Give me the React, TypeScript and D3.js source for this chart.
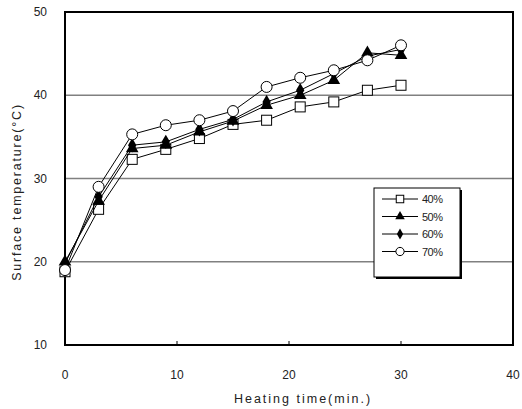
import React, { useEffect, useRef } from 'react';
import * as d3 from 'd3';

const times = [0, 3, 6, 9, 12, 15, 18, 21, 24, 27, 30];
const s40 = [18.8, 26.3, 32.3, 33.5, 34.8, 36.5, 37.0, 38.6, 39.2, 40.6, 41.2];
const s50 = [20.0, 27.3, 33.6, 34.0, 35.6, 36.9, 38.8, 40.0, 41.8, 45.1, 44.8];
const s60 = [19.8, 27.8, 34.0, 34.4, 35.9, 37.1, 39.2, 40.6, 42.6, 44.7, 45.5];
const s70 = [19.0, 29.0, 35.3, 36.4, 37.0, 38.1, 41.0, 42.1, 43.0, 44.2, 46.0];
const seriesNames = ['40%', '50%', '60%', '70%'];
const seriesMarkers = ['square', 'triangle', 'diamond', 'circle'];
const xTicks = [0, 10, 20, 30, 40];
const yTicks = [10, 20, 30, 40, 50];

const App = () => {
  const ref = useRef<SVGSVGElement | null>(null);

  useEffect(() => {
    if (!ref.current) return;
    const svg = d3.select(ref.current);
    svg.selectAll('*').remove();

    const x = d3.scaleLinear().domain([0, 40]).range([65, 513]);
    const y = d3.scaleLinear().domain([10, 50]).range([345, 12]);
    const font = '"Liberation Sans", Arial, sans-serif';

    // gridlines
    svg.append('g')
      .selectAll('line')
      .data([20, 30, 40])
      .join('line')
      .attr('x1', x(0)).attr('x2', x(40))
      .attr('y1', d => y(d)).attr('y2', d => y(d))
      .attr('stroke', '#808080').attr('stroke-width', 1.5);

    // plot frame
    svg.append('rect')
      .attr('x', x(0)).attr('y', y(50))
      .attr('width', x(40) - x(0)).attr('height', y(10) - y(50))
      .attr('fill', 'none').attr('stroke', '#000').attr('stroke-width', 2);

    // x ticks (inward)
    svg.append('g')
      .selectAll('line')
      .data([10, 20, 30])
      .join('line')
      .attr('x1', d => x(d)).attr('x2', d => x(d))
      .attr('y1', y(10)).attr('y2', y(10) - 4)
      .attr('stroke', '#000').attr('stroke-width', 1);

    // tick labels
    svg.append('g')
      .selectAll('text')
      .data(xTicks)
      .join('text')
      .attr('x', d => x(d)).attr('y', 379)
      .attr('text-anchor', 'middle')
      .attr('font-family', font).attr('font-size', 12).attr('fill', '#222')
      .text(d => d);

    svg.append('g')
      .selectAll('text')
      .data(yTicks)
      .join('text')
      .attr('x', 47).attr('y', d => y(d) + 4)
      .attr('text-anchor', 'end')
      .attr('font-family', font).attr('font-size', 12).attr('fill', '#222')
      .text(d => d);

    // axis titles
    svg.append('text')
      .attr('x', 303).attr('y', 403)
      .attr('text-anchor', 'middle')
      .attr('font-family', font).attr('font-size', 12.5).attr('letter-spacing', 2)
      .attr('fill', '#222')
      .text('Heating  time(min.)');

    svg.append('text')
      .attr('transform', `translate(21, 192) rotate(-90)`)
      .attr('text-anchor', 'middle')
      .attr('font-family', font).attr('font-size', 12.5).attr('letter-spacing', 1.8)
      .attr('fill', '#222')
      .text('Surface  temperature(\u00b0C)');

    const allSeries = [s40, s50, s60, s70];

    const drawMarker = (g: any, kind: string, cx: number, cy: number, scale = 1) => {
      if (kind === 'square') {
        const h = 5 * scale;
        g.append('rect').attr('x', cx - h).attr('y', cy - h)
          .attr('width', 2 * h).attr('height', 2 * h)
          .attr('fill', '#fff').attr('stroke', '#000').attr('stroke-width', 1);
      } else if (kind === 'circle') {
        g.append('circle').attr('cx', cx).attr('cy', cy).attr('r', 5.5 * scale)
          .attr('fill', '#fff').attr('stroke', '#000').attr('stroke-width', 1);
      } else if (kind === 'triangle') {
        const sym = d3.symbol().type(d3.symbolTriangle).size(70 * scale * scale);
        g.append('path').attr('d', sym()).attr('transform', `translate(${cx},${cy})`)
          .attr('fill', '#000');
      } else {
        const sym = d3.symbol().type(d3.symbolDiamond).size(60 * scale * scale);
        g.append('path').attr('d', sym()).attr('transform', `translate(${cx},${cy})`)
          .attr('fill', '#000');
      }
    };

    const line = d3.line<number>()
      .x((_, i) => x(times[i]))
      .y(d => y(d));

    allSeries.forEach((vals, si) => {
      const g = svg.append('g');
      g.append('path').datum(vals)
        .attr('d', line)
        .attr('fill', 'none').attr('stroke', '#000').attr('stroke-width', 1);
      vals.forEach((v, i) => drawMarker(g, seriesMarkers[si], x(times[i]), y(v)));
    });

    // legend
    const lg = svg.append('g');
    lg.append('rect').attr('x', 376).attr('y', 190).attr('width', 86).attr('height', 89)
      .attr('fill', '#000');
    lg.append('rect').attr('x', 374).attr('y', 188).attr('width', 86).attr('height', 89)
      .attr('fill', '#fff').attr('stroke', '#000').attr('stroke-width', 1);
    seriesNames.forEach((name, i) => {
      const ly = 199 + i * 17.5;
      lg.append('line').attr('x1', 382).attr('x2', 418).attr('y1', ly).attr('y2', ly)
        .attr('stroke', '#000').attr('stroke-width', 1);
      drawMarker(lg, seriesMarkers[i], 400, ly, 0.75);
      lg.append('text').attr('x', 422).attr('y', ly + 4)
        .attr('font-family', font).attr('font-size', 11).attr('letter-spacing', -0.5)
        .attr('fill', '#222')
        .text(name);
    });
  }, []);

  return (
    <svg
      ref={ref}
      width={522}
      height={409}
      style={{ position: 'absolute', left: 0, top: 0, background: '#fff' }}
    />
  );
};

export default App;
